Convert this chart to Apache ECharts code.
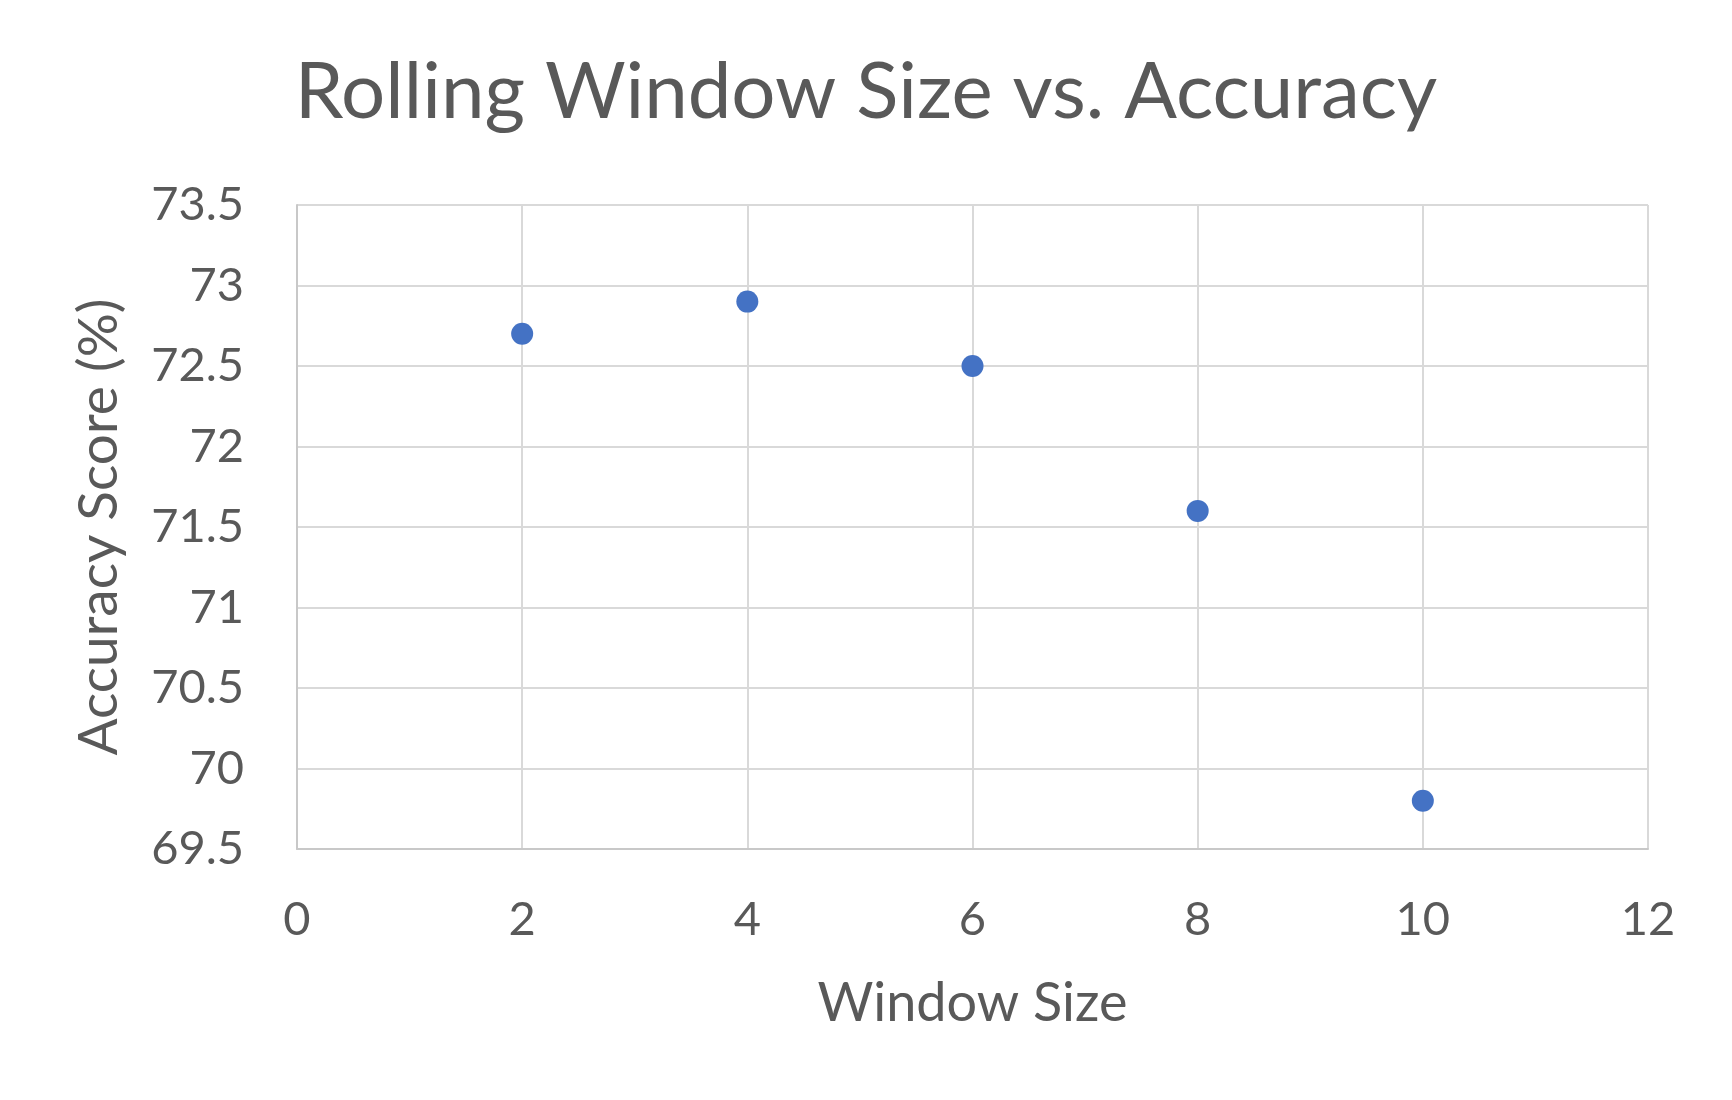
<!DOCTYPE html>
<html>
<head>
<meta charset="utf-8">
<script src="https://cdn.jsdelivr.net/npm/echarts@6/dist/echarts.min.js"></script>
<style>
  html, body { margin: 0; padding: 0; background: #fff; }
  #chart { width: 1732px; height: 1100px; }
</style>
</head>
<body>
<div id="chart"></div>
<script>
// window sizes and accuracy scores
const windowSizes = [2, 4, 6, 8, 10]
const accuracy = [72.7, 72.9, 72.5, 71.6, 69.8]

const textColor = '#595959'
const gridColor = '#d9d9d9'
const font = 'Lato'

const chart = echarts.init(document.getElementById('chart'))
chart.setOption({
  backgroundColor: '#fff',
  animation: false,
  title: {
    text: 'Rolling Window Size vs. Accuracy',
    left: 'center',
    top: 49,
    textStyle: {
      color: textColor,
      fontFamily: font,
      fontWeight: 'normal',
      fontSize: 78
    }
  },
  grid: {
    left: 297,
    right: 84,
    top: 205,
    bottom: 251
  },
  xAxis: {
    type: 'value',
    min: 0,
    max: 12,
    interval: 2,
    name: 'Window Size',
    nameLocation: 'middle',
    nameGap: 128,
    nameTextStyle: { color: textColor, fontFamily: font, fontSize: 54 },
    axisLine: { lineStyle: { color: '#c8c8c8', width: 2 } },
    axisTick: { show: false },
    axisLabel: { color: textColor, fontFamily: font, fontSize: 47, margin: 47 },
    splitLine: { show: true, lineStyle: { color: gridColor, width: 2 } }
  },
  yAxis: {
    type: 'value',
    min: 69.5,
    max: 73.5,
    interval: 0.5,
    name: 'Accuracy Score (%)',
    nameLocation: 'middle',
    nameGap: 170,
    nameTextStyle: { color: textColor, fontFamily: font, fontSize: 55 },
    axisLine: { show: true, lineStyle: { color: '#c8c8c8', width: 2 } },
    axisTick: { show: false },
    axisLabel: { color: textColor, fontFamily: font, fontSize: 47, margin: 53 },
    splitLine: { show: true, lineStyle: { color: gridColor, width: 2 } }
  },
  series: [
    {
      type: 'scatter',
      symbolSize: 22,
      itemStyle: { color: '#4472c4', opacity: 1 },
      data: windowSizes.map((x, i) => [x, accuracy[i]])
    }
  ]
})
</script>
</body>
</html>
